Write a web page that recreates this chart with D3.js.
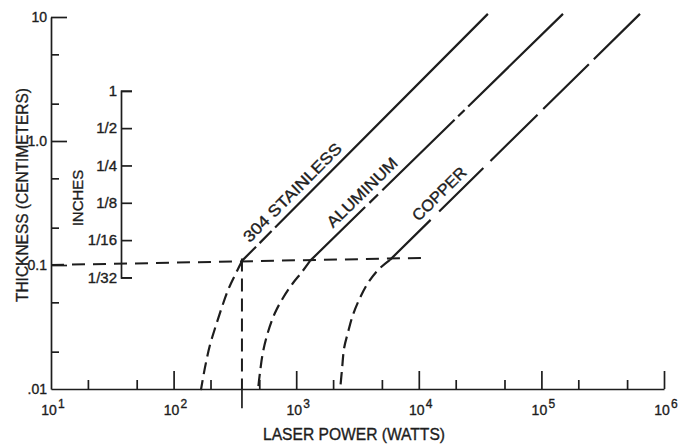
<!DOCTYPE html>
<html>
<head>
<meta charset="utf-8">
<script src="https://cdn.jsdelivr.net/npm/d3@7"></script>
<style>
  body { margin: 0; background: #fff; }
  svg text { font-family: "Liberation Sans", Arial, sans-serif; fill: #1d1d1d; stroke: #1d1d1d; stroke-width: 0.35px; }
</style>
</head>
<body>
<div id="app"></div>
<script>
// ---- values (power in W, thickness in cm) ----
const xExponents = [1, 2, 3, 4, 5, 6];
const xMinorTicks = [20, 50, 200, 500, 2e3, 5e3, 2e4, 5e4, 2e5, 5e5];
const yMajorTicks = [10, 1, 0.1, 0.01];
const yTickLabels = ["10", "1.0", "0.1", ".01"];
const yMinorTicks = [5, 2, 0.5, 0.2, 0.05, 0.02];
const inchTicks = [1, 1/2, 1/4, 1/8, 1/16, 1/32];
const inchLabels = ["1", "1/2", "1/4", "1/8", "1/16", "1/32"];
const cmPerInch = 2.54;

const materials = ["304 STAINLESS", "ALUMINUM", "COPPER"];
// straight (log-log) part of each curve
const solidPower = [[361, 36600], [1297, 150000], [5820, 637000]];
const solidThick = [[0.108, 10.6], [0.108, 10.6], [0.110, 10.6]];
// dashed knee below ~0.1 cm
const stainlessCurveP = [361, 348, 317, 278, 248, 222, 198, 180, 167];
const stainlessCurveT = [0.108, 0.100, 0.0830, 0.0628, 0.0458, 0.0328, 0.0226, 0.0148, 0.0098];
const aluminumCurveP = [1297, 1114, 942, 780, 671, 589, 536, 507, 488];
const aluminumCurveT = [0.108, 0.0879, 0.0716, 0.0542, 0.0410, 0.0288, 0.0199, 0.0137, 0.0098];
const copperCurveP = [5820, 4650, 3850, 3310, 2900, 2650, 2460, 2370, 2280];
const copperCurveT = [0.110, 0.0912, 0.0716, 0.0542, 0.0395, 0.0288, 0.0214, 0.0148, 0.0098];
// 0.1 cm guide line and the marker at ~360 W
const refLineP = [10, 10600];
const refLineT = [0.1, 0.114];
const markerP = 361;
const markerT = [0.113, 0.01, 0.007];

const curveP = [stainlessCurveP, aluminumCurveP, copperCurveP];
const curveT = [stainlessCurveT, aluminumCurveT, copperCurveT];

// ---- layout ----
const W = 687, H = 445;
const ink = "#1d1d1d";
const x = d3.scaleLog().domain([10, 1e6]).range([51, 664]);
const y = d3.scaleLog().domain([0.01, 10]).range([389, 17]);
const inchAxisX = 121;

const svg = d3.select("#app").append("svg")
    .attr("width", W).attr("height", H)
    .style("background", "#fff");

const line = d3.line().x(d => x(d[0])).y(d => y(d[1]));
const zip = (a, b) => a.map((v, i) => [v, b[i]]);

// x axis, major + minor ticks pointing up
svg.append("g").attr("transform", `translate(0,${y(0.01)})`)
    .call(d3.axisBottom(x).tickValues(xExponents.slice(1).map(e => 10 ** e))
        .tickSize(-18).tickSizeOuter(0).tickFormat(""));
const xMin = svg.append("g").attr("transform", `translate(0,${y(0.01)})`)
    .call(d3.axisBottom(x).tickValues(xMinorTicks).tickSize(-9).tickFormat(""));
xMin.select(".domain").remove();

// y axis, ticks pointing right
svg.append("g").attr("transform", `translate(${x(10)},0)`)
    .call(d3.axisLeft(y).tickValues(yMajorTicks.slice(0, 3))
        .tickSize(-16).tickSizeOuter(0).tickFormat(""));
const yMin = svg.append("g").attr("transform", `translate(${x(10)},0)`)
    .call(d3.axisLeft(y).tickValues(yMinorTicks).tickSize(-8).tickFormat(""));
yMin.select(".domain").remove();

// inch scale, same vertical mapping as centimetres
const inchScale = d3.scaleLog()
    .domain([1/32, 1])
    .range([y(cmPerInch / 32), y(cmPerInch)]);
svg.append("g").attr("transform", `translate(${inchAxisX},0)`)
    .call(d3.axisRight(inchScale).tickValues(inchTicks).tickSize(11).tickFormat(""));

svg.selectAll(".domain, .tick line")
    .attr("stroke", ink).attr("stroke-width", 1.7);

// tick labels
svg.append("g").selectAll("text").data(yMajorTicks).join("text")
    .attr("x", x(10) - 4).attr("y", d => y(d)).attr("dy", "0.35em")
    .attr("text-anchor", "end").attr("font-size", 14)
    .text((d, i) => yTickLabels[i]);

const xl = svg.append("g").selectAll("g").data(xExponents).join("g");
xl.append("text")
    .attr("x", d => x(10 ** d) - 2).attr("y", 415)
    .attr("text-anchor", "middle").attr("font-size", 14).text("10");
xl.append("text")
    .attr("x", d => x(10 ** d) + 7).attr("y", 408)
    .attr("font-size", 12).text(d => d);

svg.append("g").selectAll("text").data(inchTicks).join("text")
    .attr("x", inchAxisX - 4).attr("y", d => inchScale(d)).attr("dy", "0.35em")
    .attr("text-anchor", "end").attr("font-size", 15)
    .text((d, i) => inchLabels[i]);

// axis titles
svg.append("text")
    .attr("x", 354).attr("y", 440).attr("text-anchor", "middle")
    .attr("font-size", 16).attr("textLength", 182).attr("lengthAdjust", "spacingAndGlyphs")
    .text("LASER POWER (WATTS)");
svg.append("text")
    .attr("transform", "translate(28,195) rotate(-90)").attr("text-anchor", "middle")
    .attr("font-size", 17).attr("textLength", 214).attr("lengthAdjust", "spacingAndGlyphs")
    .text("THICKNESS (CENTIMETERS)");
svg.append("text")
    .attr("transform", "translate(83,198) rotate(-90)").attr("text-anchor", "middle")
    .attr("font-size", 15).text("INCHES");

// 0.1 cm guide and marker
svg.append("path")
    .attr("d", line(zip(refLineP, refLineT)))
    .attr("fill", "none").attr("stroke", ink).attr("stroke-width", 2)
    .attr("stroke-dasharray", "13,8");
svg.append("path")
    .attr("d", line([[markerP, markerT[0]], [markerP, markerT[1]]]))
    .attr("fill", "none").attr("stroke", ink).attr("stroke-width", 2)
    .attr("stroke-dasharray", "13,7");
svg.append("path")
    .attr("d", line([[markerP, markerT[1]], [markerP, markerT[2]]]))
    .attr("fill", "none").attr("stroke", ink).attr("stroke-width", 1.7);

// material curves
const solidDash = ["20,5,17,5,400", "77,6,12,6,101,5,9,5,400", "57,12,62,10,66,8,64,7,80"];
const labelAlong = [18, 39, 47];
const labelOff = 7;
const labelLen = [132, 92, 69];

materials.forEach((m, i) => {
    svg.append("path")
        .attr("d", line.curve(d3.curveCatmullRom)(zip(curveP[i], curveT[i])))
        .attr("fill", "none").attr("stroke", ink).attr("stroke-width", 2.2)
        .attr("stroke-dasharray", "12,6");
    line.curve(d3.curveLinear);

    const pts = zip(solidPower[i], solidThick[i]);
    svg.append("path")
        .attr("d", line(pts))
        .attr("fill", "none").attr("stroke", ink).attr("stroke-width", 2.2)
        .attr("stroke-dasharray", solidDash[i]);

    const p0 = [x(pts[0][0]), y(pts[0][1])], p1 = [x(pts[1][0]), y(pts[1][1])];
    const len = Math.hypot(p1[0] - p0[0], p1[1] - p0[1]);
    const dir = [(p1[0] - p0[0]) / len, (p1[1] - p0[1]) / len];
    const nrm = [dir[1], -dir[0]];
    const tx = p0[0] + labelAlong[i] * dir[0] + labelOff * nrm[0];
    const ty = p0[1] + labelAlong[i] * dir[1] + labelOff * nrm[1];
    const ang = Math.atan2(dir[1], dir[0]) * 180 / Math.PI;
    svg.append("text")
        .attr("transform", `translate(${tx},${ty}) rotate(${ang})`)
        .attr("font-size", 16).attr("textLength", labelLen[i]).attr("lengthAdjust", "spacingAndGlyphs")
        .text(m);
});
</script>
</body>
</html>
